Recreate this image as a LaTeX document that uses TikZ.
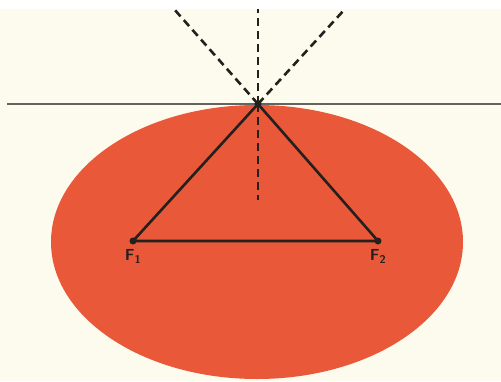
\documentclass[tikz,border=0pt]{standalone}
\usepackage{xcolor}
\usetikzlibrary{positioning}
\definecolor{paper}{RGB}{253,251,238}
\definecolor{mirror}{RGB}{234,88,58}
\definecolor{ink}{RGB}{35,32,30}
\begin{document}
\begin{tikzpicture}[
  x=1pt, y=-1pt,
  ray/.style={ink, line width=2.6pt, line join=round},
  normal/.style={ink, line width=2.6pt, dash pattern=on 8pt off 5pt},
  focus/.style={circle, fill=ink, inner sep=0pt, minimum size=7pt},
  flabel/.style={font=\sffamily\bfseries\fontsize{16}{16}\selectfont, ink, inner sep=1pt}
]
\useasboundingbox (0,0) rectangle (501,381);
\fill[paper] (0,9) rectangle (501,381);
\fill[white] (0,0) rectangle (501,9);
\fill[mirror] (257,242) ellipse [x radius=206pt, y radius=137pt];
% points
\coordinate (top) at (258,104);
\node[focus] (f1) at (133,241) {};
\node[focus] (f2) at (378,241) {};
\node[flabel, below=4pt of f1] (f1lab) {F\textsubscript{1}};
\node[flabel, below=4pt of f2] (f2lab) {F\textsubscript{2}};
\coordinate (upl) at (174,9);
\coordinate (upr) at (345,9);
\coordinate (upv) at (258,9);
\coordinate (downv) at (258,200);
\coordinate (tanl) at (7,104);
\coordinate (tanr) at (501,104);
% tangent
\draw[ink!70, line width=2pt] (tanl) -- (tanr);
% normal and reflected rays
\draw[normal] (top) -- (upl);
\draw[normal] (top) -- (upr);
\draw[normal] (top) -- (upv);
\draw[normal] (top) -- (downv);
% triangle
\draw[ray] (f1.center) -- (top) -- (f2.center) -- cycle;
\fill[ink] (top) circle (3.5pt);
\end{tikzpicture}
\end{document}
